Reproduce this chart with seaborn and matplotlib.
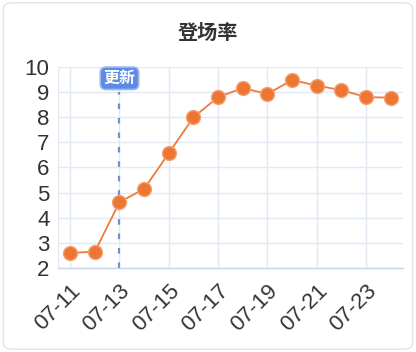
import matplotlib
matplotlib.use("Agg")
import matplotlib.pyplot as plt
import seaborn as sns
import pandas as pd
from matplotlib.patches import FancyBboxPatch

dates = ["07-11", "07-12", "07-13", "07-14", "07-15", "07-16", "07-17",
         "07-18", "07-19", "07-20", "07-21", "07-22", "07-23", "07-24"]
rates = [2.6, 2.65, 4.62, 5.15, 6.57, 8.0, 8.8, 9.16, 8.93, 9.48, 9.26, 9.08, 8.8, 8.78]
yticks = [2, 3, 4, 5, 6, 7, 8, 9, 10]
update_date = "07-13"
update_label = "更新"
title = "登场率"

sns.set_theme(style="white")
plt.rcParams['font.family'] = ['Noto Sans CJK SC', 'DejaVu Sans']

df = pd.DataFrame({"date": dates, "rate": rates})
df["idx"] = range(len(dates))

fig = plt.figure(figsize=(4.16, 3.52), dpi=100)
fig.patch.set_facecolor("white")
border = FancyBboxPatch((0.008, 0.008), 0.984, 0.984,
                        boxstyle="round,pad=0,rounding_size=0.02",
                        transform=fig.transFigure, facecolor="none",
                        edgecolor="#e6e6e6", linewidth=1.2, zorder=-5)
fig.patches.append(border)

ax = fig.add_axes([0.139, 0.2386, 0.830, 0.5711])
ax.set_facecolor("none")

grid_c = "#e3e9f2"
for y in yticks:
    ax.axhline(y, color=grid_c, lw=1.0, zorder=0)
for i in range(0, len(dates), 2):
    ax.axvline(i, color=grid_c, lw=1.0, zorder=0)
ax.axvline(-0.5, color=grid_c, lw=1.0, zorder=0)

sns.lineplot(data=df, x="idx", y="rate", ax=ax, color="#ee7a3a", lw=1.3,
             marker="o", markersize=10, markerfacecolor="#ee7633",
             markeredgecolor="#f5a070", markeredgewidth=1.0, clip_on=False, zorder=3)

ui = dates.index(update_date)
ax.plot([ui, ui], [2, 9.0], color="#6f8fd6", lw=1.6, ls=(0, (2.5, 4)), zorder=2)
ax.text(ui, 9.55, update_label, ha="center", va="center", color="white",
        fontsize=11.5, fontweight="bold",
        bbox=dict(boxstyle="round,pad=0.2,rounding_size=0.35",
                  facecolor="#5d8ae6", edgecolor="#9db8f0", lw=1.2), zorder=5)

ax.set_xlim(-0.5, len(dates) - 0.5)
ax.set_ylim(2, 10)
ax.set_yticks(yticks)
ax.set_yticklabels([str(v) for v in yticks], fontsize=16, color="#333333",
                   family=['Liberation Sans'])
xt = list(range(0, len(dates), 2))
ax.set_xticks(xt)
ax.set_xticklabels([dates[i] for i in xt], rotation=45, ha="right",
                   rotation_mode="anchor", fontsize=16, color="#333333",
                   family=['Liberation Sans'])
ax.tick_params(axis="x", length=0, pad=9)
ax.tick_params(axis="y", length=0, pad=6)
for s in ["top", "right", "left"]:
    ax.spines[s].set_visible(False)
ax.spines["bottom"].set_color("#c9d6ea")
ax.spines["bottom"].set_linewidth(1.0)
ax.set_xlabel("")
ax.set_ylabel("")

fig.text(0.5, 0.909, title, ha="center", va="center", fontsize=14.5,
         fontweight="bold", color="#333333")

fig.savefig("out.png", dpi=100, facecolor="white")
